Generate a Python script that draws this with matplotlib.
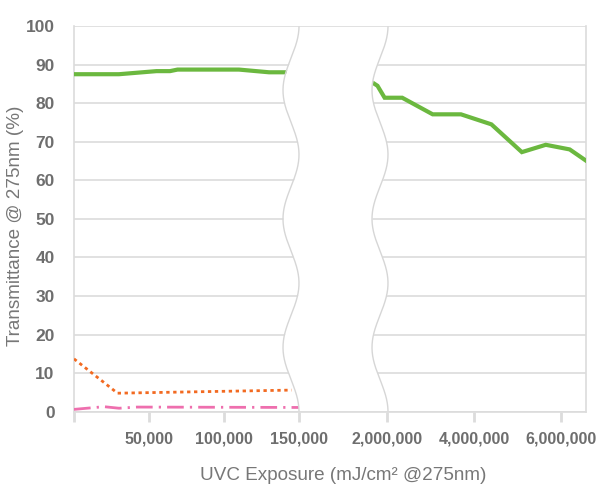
import numpy as np
import matplotlib
matplotlib.use("Agg")
import matplotlib.pyplot as plt
from matplotlib.ticker import FixedLocator, FuncFormatter

plt.rcParams['font.family'] = ['Liberation Sans', 'DejaVu Sans']

# UVC exposure (mJ/cm^2) and transmittance (%) per sample
green_x = [0, 30000, 55000, 64000, 69000, 110000, 130000, 150000,
           1700000, 1800000, 1950000, 2350000, 3050000, 3700000,
           4400000, 5100000, 5650000, 6200000, 6560000]
green_y = [87.5, 87.5, 88.3, 88.3, 88.7, 88.7, 88.0, 88.0,
           85.3, 84.5, 81.4, 81.4, 77.1, 77.1,
           74.5, 67.3, 69.2, 68.0, 65.2]

orange_x = [0, 29000, 145000]
orange_y = [13.7, 4.8, 5.6]

pink_x = [0, 20000, 30000, 42000, 150000]
pink_y = [0.6, 1.3, 0.9, 1.2, 1.1]

x_ticks = [50000, 100000, 150000, 2000000, 4000000, 6000000]
y_ticks = [0, 10, 20, 30, 40, 50, 60, 70, 80, 90, 100]

# Broken x axis: linear up to 150k, compressed gap, then linear from 2M
brk_x = np.array([0.0, 150000.0, 2000000.0, 1.0e8])
brk_u = np.array([0.0, 225.0, 313.0, 313.0 + (1.0e8 - 2.0e6) * 87.0 / 2.0e6])


def fwd(x):
    return np.interp(x, brk_x, brk_u)


def inv(u):
    return np.interp(u, brk_u, brk_x)


W, H = 604, 495
fig = plt.figure(figsize=(W / 100, H / 100), dpi=100)
L, R, T, B = 74, 586, 26, 411.7
ax = fig.add_axes([L / W, 1 - B / H, (R - L) / W, (B - T) / H])
ax.set_xscale('function', functions=(fwd, inv))
u_max = R - L
ax.set_xlim(0, float(inv(u_max)))
ax.set_ylim(0, 100)

grid_c = '#dcdcdc'
ax.yaxis.set_major_locator(FixedLocator(y_ticks))
ax.xaxis.set_major_locator(FixedLocator([0] + x_ticks))
ax.xaxis.set_major_formatter(FuncFormatter(lambda v, p: '' if v == 0 else f'{int(v):,}'))
ax.grid(axis='y', color=grid_c, linewidth=1.2, zorder=0)
ax.set_axisbelow(True)
for s in ['left', 'right', 'bottom']:
    ax.spines[s].set_color(grid_c)
    ax.spines[s].set_linewidth(1.2)
ax.spines['top'].set_visible(False)
ax.spines['bottom'].set_zorder(6)

ax.tick_params(axis='y', length=0, pad=14, labelsize=12.5, labelcolor='#6e6e6e')
ax.tick_params(axis='x', length=7, width=2, color=grid_c, pad=7,
               labelsize=11.5, labelcolor='#6e6e6e')
for lab in ax.get_xticklabels() + ax.get_yticklabels():
    lab.set_fontweight('bold')

ax.plot(green_x, green_y, color='#6bb83f', linewidth=3.0, zorder=3,
        solid_joinstyle='miter')
ax.plot(orange_x, orange_y, color='#f26a21', linewidth=2.0, zorder=3,
        linestyle=(0, (1.2, 1.3)))
ax.plot(pink_x, pink_y, color='#ee6fae', linewidth=2.0, zorder=3,
        linestyle=(0, (6, 2.2, 0.8, 2.2)))

# Wavy break band over the gap
yf = np.linspace(0.003, 0.997, 400)
phase = 2 * np.pi * 3 * (1 - yf)
left_edge = (217 + 8 * np.cos(phase)) / u_max
right_edge = (306 + 8 * np.cos(phase)) / u_max
ax.fill_betweenx(yf, left_edge, right_edge, color='white',
                 transform=ax.transAxes, zorder=4, linewidth=0)
ax.plot(left_edge, yf, color='#d6d6d6', linewidth=1.0,
        transform=ax.transAxes, zorder=5)
ax.plot(right_edge, yf, color='#d6d6d6', linewidth=1.0,
        transform=ax.transAxes, zorder=5)

ax.set_xlabel('UVC Exposure (mJ/cm² @275nm)', fontsize=13.6, color='#777777')
ax.set_ylabel('Transmittance @ 275nm (%)', fontsize=13.6, color='#777777')
ax.xaxis.set_label_coords((343 - L) / u_max, (B - 467) / (B - T))
ax.yaxis.set_label_coords((24 - L) / u_max, (B - 226) / (B - T))

fig.savefig('out.png', dpi=100, facecolor='white')
